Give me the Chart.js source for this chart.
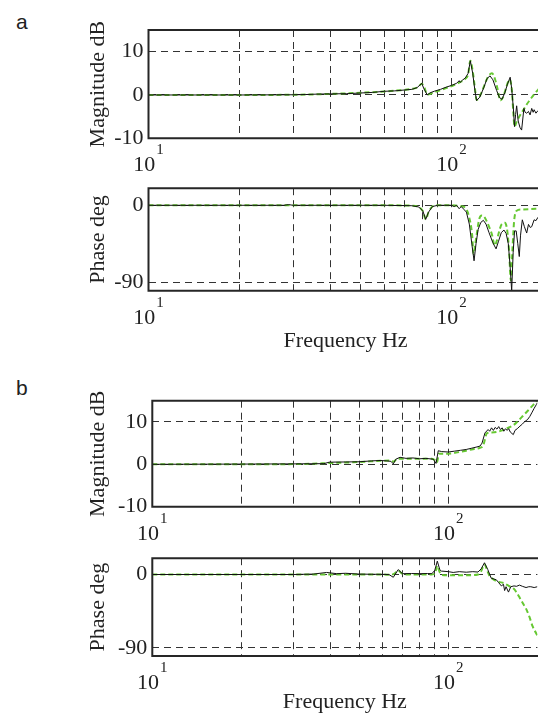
<!DOCTYPE html>
<html><head><meta charset="utf-8">
<script src="https://cdn.jsdelivr.net/npm/chart.js@4/dist/chart.umd.min.js"></script>
<style>
html,body{margin:0;padding:0;background:#fff;overflow:hidden;width:538px;height:715px;position:relative}
canvas{position:absolute;left:0}
.lbl{position:absolute;font-family:"Liberation Sans",Arial,sans-serif;font-size:21px;color:#222;line-height:1}
</style></head><body>
<div class="lbl" style="left:16px;top:11px">a</div>
<div class="lbl" style="left:16px;top:377px">b</div>
<canvas id="c1" width="545" height="180" style="top:0px"></canvas>
<canvas id="c2" width="545" height="195" style="top:170px"></canvas>
<canvas id="c3" width="545" height="180" style="top:370px"></canvas>
<canvas id="c4" width="545" height="185" style="top:540px"></canvas>
<script>
// ---------- data ----------
const freqGrid = [10, 20, 30, 40, 50, 60, 70, 80, 90, 100];
const decadeValues = [10, 100];
const decadeBase = ['10', '10'];
const decadeExp = ['1', '2'];
const magTicks = [-10, 0, 10];
const phaseTicks = [-90, 0];

// panel a, magnitude (dB)
const aMagFreqD = [10,20,30,33,36,40,45,50,55,60,65,70,74,77,79.8,81,83.2,85,88,92,96,100,104,106,106.8,109,111,113.5,115.4,117.5,119.5,121,124,128,131,134,137,141,144,146.8,150,153,156.2,158,160,161.4,162.8,164.1,166,168.3,170.4,173.4,175,177.1,179.5,181.7,184,186,187.4,190,193,196,200];
const aMagD = [0,0,0.05,0.1,0.2,0.25,0.3,0.45,0.6,0.85,0.95,1.15,1.3,1.7,2.7,1.5,0.0,0.5,0.9,1.3,1.8,2.2,2.7,3.3,2.9,3.5,3.9,5.0,7.9,5.0,1.0,-1.3,-0.5,1.8,3.8,4.4,3.5,1.0,-0.6,-1.0,0.5,2.5,4.1,1.5,-3.0,-7.3,-4.5,-2.5,-6.0,-7.5,-8.1,-3.1,-4.0,-4.2,-3.8,-4.6,-3.1,-4.0,-3.4,-4.2,-3.6,-3.3,-3.0];
const aMagFreqM = [10,20,30,36,42,50,60,68,74,77.5,79.8,81.5,83.2,86,90,96,102,107,111,113.5,115.4,117.5,119.5,121,124,128,132,136,139,142,144.9,148,152,155.4,158,160,161.4,164,168,172.6,177,181.7,187,193,200];
const aMagM = [0,0,0.05,0.15,0.3,0.5,0.8,1.1,1.4,1.8,2.6,1.6,0.1,0.4,0.9,1.6,2.3,3.0,3.7,4.8,7.9,5.5,1.5,-1.1,-0.3,2.0,4.2,5.0,3.8,1.3,-1.3,-0.5,2.0,3.6,1.5,-4.0,-7.3,-6.2,-4.8,-3.5,-2.2,-1.1,0.1,1.2,2.5];

// panel a, phase (deg)
const aPhFreqD = [10,28,29,30,60,74,78,80.5,82.2,84,86.5,90,100,102,104,106,107.7,109.7,112,114.5,117,118.7,120.5,122.5,125,127.4,130,133,137,140.3,143,146,149,151.5,154,156,158,159.8,161.5,163.5,165.5,167.4,169,171.3,174,177.1,179.5,182,184,187.4,190,193,200];
const aPhD = [0,0,0.8,0,0,-0.5,-2,-7,-16.5,-8,-1.5,0,0,-1.5,0,-4,-1.5,-4.5,-8,-22,-48,-65,-45,-28,-20,-17.6,-22,-32,-44,-51,-42,-32,-29,-33,-45,-70,-100,-55,-30,-30,-45,-60,-35,-17,-25,-32.5,-22.4,-26,-25,-17,-18,-14,-12];
const aPhFreqM = [10,60,74,78,80.5,82.2,84,86.5,90,100,104,107,111,114,117,118.2,119.5,121,123.5,125.8,128,130.4,133,135.7,138.9,141,142.6,146.5,150.2,152.8,155,157,159,161,164.1,170,180,190,200];
const aPhM = [0,0,-0.5,-2,-7,-16.5,-8,-1.5,0,0,-0.5,-1,-3,-12,-35,-57,-48,-35,-16,-12,-13,-18,-25,-33,-47,-42,-35,-22,-20.5,-30,-55,-88,-50,-18,-6.4,-5,-4.5,-4.2,-4];

// panel b, magnitude (dB)
const bMagFreqD = [10,20,30,38,39.6,45,50,55,58.8,62,64,65.2,66.5,68.7,72,76,80,84,89,90.9,92.5,95,100,105,110,115,120,125,128,130,133,136.3,138,140,142,144,146,148,150,152,154,156,158,160,162,165.8,168,171,174.6,178,182,185,188.6,192,195,198.4,200];
const bMagD = [0,0.05,0.1,0.15,0.5,0.55,0.6,0.8,0.9,0.8,0.7,0.1,1.2,1.65,1.4,1.5,1.3,1.4,1.2,0.2,3.2,3.0,2.9,3.1,3.3,3.5,3.8,4.1,4.3,5.0,7.4,8.2,7.8,8.6,8.0,8.7,8.3,8.9,8.2,8.6,7.8,8.4,8.0,8.4,7.6,7.0,8.0,8.4,9.0,9.5,10.2,10.5,11.3,12.3,13.2,14.1,14.5];
const bMagFreqM = [10,20,30,40,50,60,64,65.5,67,70,80,88,90,91.5,93,100,112.4,120,127.9,131.3,133.3,134.8,140,145.3,152,158,165.8,172,179.2,186,193,200];
const bMagM = [0,0,0.05,0.3,0.55,0.85,0.9,0.6,1.3,1.3,1.3,1.3,1.0,0.4,2.5,2.5,3.1,3.5,3.9,4.5,6.2,7.3,7.5,7.6,8.0,8.5,9.2,10.2,11.5,12.7,13.9,15];

// panel b, phase (deg)
const bPhFreqD = [10,30,35,38.8,42,45,50,55,60,63,65.2,67.7,70,75,80,85,88,90,91.8,93.6,94.7,100,103.9,108.9,115,121,126,129.2,132.5,136,139.6,145.3,148,151.1,153.6,155,156.7,159.7,162.6,166.7,170,174,178,183.1,187,190,195,200];
const bPhD = [0,0,0.5,2.5,1,1.5,0.5,0.3,0.2,0,-3.4,6,1,1.2,1,1.2,1,5,16.4,6,4.2,3.5,2.5,3.5,2.8,3.5,3,7,14.4,6,-4.5,-6.5,-10,-14,-12,-19.7,-15,-21.6,-15,-14,-14.5,-13,-14.5,-16,-15,-15,-16,-15];
const bPhFreqM = [10,60,64,66,67.7,69.5,72,88,90.5,91.8,93.5,95,100,110,120,126,129,132.5,135,138,142,148,153.7,160,166.5,170,174.6,179,183.4,188,192.6,196,200];
const bPhM = [0,0,-0.5,1.5,5,1.5,0,0,3,10.6,3,-0.5,-0.8,-1,-0.8,0,4,12.5,6,-2,-6,-9,-10.5,-14,-17.6,-22,-29,-36,-42.5,-52,-63.4,-69,-75];

// ---------- drawing ----------
const SERIF = '"Liberation Serif", "Times New Roman", serif';
const GRID = '#333';
const FRAME = '#262626';

const framePlugin = {
  id: 'frameAndDecades',
  afterDraw(chart) {
    const {ctx, chartArea: a, scales: {x}} = chart;
    ctx.save();
    ctx.strokeStyle = FRAME;
    ctx.lineWidth = 2;
    ctx.beginPath();
    ctx.moveTo(a.right + 20, a.top);
    ctx.lineTo(a.left, a.top);
    ctx.lineTo(a.left, a.bottom);
    ctx.lineTo(a.right + 20, a.bottom);
    ctx.stroke();
    ctx.fillStyle = '#222';
    ctx.textBaseline = 'alphabetic';
    ctx.textAlign = 'left';
    decadeValues.forEach((v, i) => {
      const px = x.getPixelForValue(v);
      ctx.font = '22px ' + SERIF;
      const w1 = ctx.measureText(decadeBase[i]).width;
      ctx.font = '15px ' + SERIF;
      const w2 = ctx.measureText(decadeExp[i]).width;
      const x0 = px - (w1 + w2 + 1) / 2;
      const base = a.bottom + 33;
      ctx.font = '22px ' + SERIF;
      ctx.fillText(decadeBase[i], x0, base);
      ctx.font = '15px ' + SERIF;
      ctx.fillText(decadeExp[i], x0 + w1 + 1, base - 17);
    });
    ctx.restore();
  }
};

function pts(fs, vs) { return fs.map((f, i) => ({x: f, y: vs[i]})); }

function makePanel(id, p) {
  new Chart(document.getElementById(id), {
    type: 'line',
    data: {
      datasets: [
        {data: pts(p.fd, p.vd), borderColor: '#111', borderWidth: 1, pointRadius: 0, tension: 0, fill: false},
        {data: pts(p.fm, p.vm), borderColor: 'rgb(102,200,50)', borderWidth: 2, borderDash: [5, 3], pointRadius: 0, cubicInterpolationMode: 'monotone', fill: false}
      ]
    },
    options: {
      responsive: false, animation: false, devicePixelRatio: 1,
      layout: {padding: {left: 0, right: p.rightPad, top: p.top, bottom: 0}},
      plugins: {legend: {display: false}, tooltip: {enabled: false}},
      scales: {
        x: {
          type: 'logarithmic', min: 10, max: 200, position: 'bottom',
          afterBuildTicks: s => { s.ticks = freqGrid.map(v => ({value: v, major: false})); },
          afterFit: s => { s.height = p.H - p.bottom; },
          ticks: {display: false},
          grid: {color: GRID, lineWidth: 1, drawTicks: false},
          border: {display: false, dash: [7, 5]},
          title: p.xTitle ? {display: true, text: 'Frequency Hz', color: '#222', font: {family: SERIF, size: 22}, padding: {top: 0, bottom: p.xTitlePad}} : {display: false}
        },
        y: {
          min: p.yMin, max: p.yMax, position: 'left',
          afterBuildTicks: s => { s.ticks = p.yTicks.map(v => ({value: v})); },
          afterFit: s => { s.width = p.left; },
          ticks: {color: '#222', font: {family: SERIF, size: 22}, padding: 5},
          grid: {color: GRID, lineWidth: 1, drawTicks: false},
          border: {display: false, dash: [7, 5]},
          title: {display: true, text: p.yTitle, color: '#222', font: {family: SERIF, size: 22}, padding: {top: 84.8, bottom: 0}}
        }
      }
    },
    plugins: [framePlugin]
  });
}

makePanel('c1', {H: 180, top: 30, bottom: 138.3, left: 148.5, rightPad: 2.3, yMin: -10, yMax: 15, yTicks: magTicks, yTitle: 'Magnitude dB', xTitle: false,
  fd: aMagFreqD, vd: aMagD, fm: aMagFreqM, vm: aMagM});
makePanel('c2', {H: 195, top: 13.3, bottom: 120.7, left: 148.5, rightPad: 2.3, yMin: -100, yMax: 20, yTicks: phaseTicks, yTitle: 'Phase deg', xTitle: true, xTitlePad: 11,
  fd: aPhFreqD, vd: aPhD, fm: aPhFreqM, vm: aPhM});
makePanel('c3', {H: 180, top: 30.7, bottom: 136.7, left: 152.3, rightPad: 7.6, yMin: -10, yMax: 15, yTicks: magTicks, yTitle: 'Magnitude dB', xTitle: false,
  fd: bMagFreqD, vd: bMagD, fm: bMagFreqM, vm: bMagM});
makePanel('c4', {H: 185, top: 10, bottom: 116, left: 152.3, rightPad: 7.6, yMin: -100, yMax: 20, yTicks: phaseTicks, yTitle: 'Phase deg', xTitle: true, xTitlePad: 10,
  fd: bPhFreqD, vd: bPhD, fm: bPhFreqM, vm: bPhM});
</script>
</body></html>
